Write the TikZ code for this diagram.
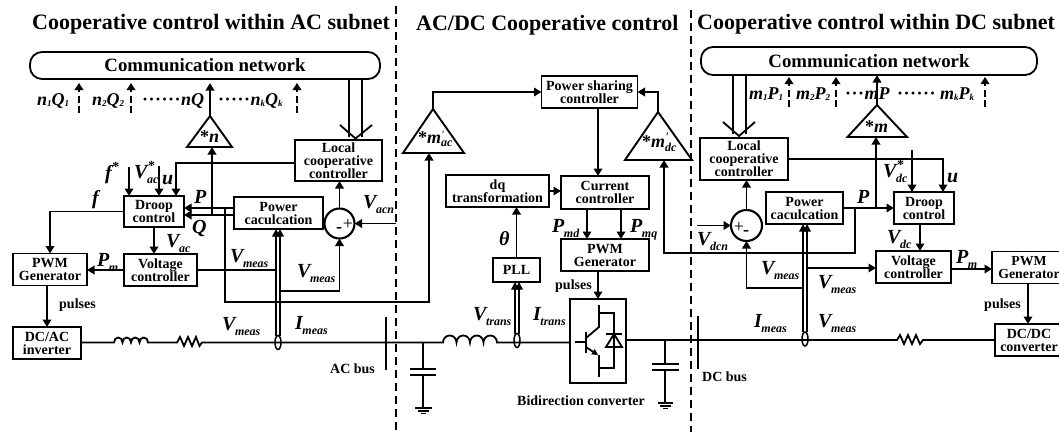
\documentclass[tikz,border=0pt]{standalone}
\usepackage{fontspec}
\setmainfont{Liberation Serif}
\usetikzlibrary{arrows.meta,calc,shapes.geometric}
\newcommand{\bigsub}[2]{{\fontsize{20}{20}\selectfont\bfseries\itshape #1}\kern-0.5pt\raisebox{-5pt}{\fontsize{12}{12}\selectfont\bfseries\itshape #2}}
\newcommand{\bigsubsup}[3]{{\fontsize{20}{20}\selectfont\bfseries\itshape #1}\rlap{\kern0.5pt\raisebox{8pt}{\fontsize{14}{14}\selectfont #3}}\kern-0.5pt\raisebox{-5pt}{\fontsize{12}{12}\selectfont\bfseries\itshape #2}}
\newcommand{\pn}[4]{{\itshape #1\raisebox{-1pt}{\fontsize{9}{9}\selectfont #2}#3\raisebox{-1pt}{\fontsize{9}{9}\selectfont #4}}}
\newcommand{\dotrun}[1]{\foreach \k in {1,...,#1}{·\kern0.5pt}}
\tikzset{
  x=1pt,y=-1pt,
  blk/.style={draw,line width=1.9pt,align=center,inner sep=0pt,outer sep=0pt,font=\fontsize{14}{13}\selectfont\bfseries},
  comm/.style={draw,line width=1.8pt,rounded corners=12pt,inner sep=0pt,outer sep=0pt,font=\fontsize{18.8}{20}\selectfont\bfseries},
  head/.style={anchor=base west,inner sep=0pt,font=\fontsize{22}{24}\selectfont\bfseries},
  lab/.style={anchor=base west,inner sep=0pt,font=\bfseries},
  small/.style={anchor=base west,inner sep=0pt,font=\fontsize{14}{14}\selectfont\bfseries},
  series/.style={anchor=base west,inner sep=0pt,font=\fontsize{18}{18}\selectfont\bfseries},
  tri/.style={anchor=base west,inner sep=0pt,font=\fontsize{18}{18}\selectfont\bfseries\itshape},
  wire/.style={line width=1.8pt},
  arr/.style={line width=1.8pt,-{Triangle[length=7.5pt,width=8.5pt]}},
  darr/.style={line width=1.8pt,dash pattern=on 7pt off 3.5pt,-{Triangle[length=7pt,width=8.5pt]}},
  divider/.style={line width=1.8pt,dash pattern=on 8pt off 5pt},
  ct/.style={draw,ellipse,line width=1.5pt,minimum width=6pt,minimum height=14pt,inner sep=0pt,outer sep=0pt},
  twin/.style={line width=1.5pt,-{Triangle[length=7.5pt,width=7.5pt]}},
  summer/.style={draw,circle,line width=2.1pt,inner sep=0pt,outer sep=0pt},
}
\begin{document}
\begin{tikzpicture}
\useasboundingbox (0,0) rectangle (1059,432);
% dividers
\draw[divider] (396,6) -- (396,432);
\draw[divider] (691,10) -- (691,432);
% headings
\node[head] (h1) at (32,29) {Cooperative control within AC subnet};
\node[head] (h2) at (416,30) {AC/DC Cooperative control};
\node[head] (h3) at (697,29) {Cooperative control within DC subnet};
% communication networks
\node[comm,minimum width=350,minimum height=27] (commac) at (205,65.5) {Communication network};
\node[comm,minimum width=336,minimum height=28] (commdc) at (869,61) {Communication network};
% boxes: AC side
\node[blk,minimum width=87,minimum height=41] (lcac) at (338.5,160.5) {Local\\cooperative\\controller};
\node[blk,minimum width=60,minimum height=31] (droopac) at (154,211.5) {Droop\\control};
\node[blk,minimum width=89,minimum height=32] (powac) at (278.5,213) {Power\\caculcation};
\node[blk,minimum width=74,minimum height=32] (pwmac) at (50,269.5) {PWM\\Generator};
\node[blk,minimum width=73,minimum height=32] (voltac) at (160.5,270) {Voltage\\controller};
\node[blk,minimum width=68,minimum height=32] (inv) at (47,343) {DC/AC\\inverter};
% boxes: middle
\node[blk,minimum width=96,minimum height=32] (psc) at (589.5,92) {Power sharing\\controller};
\node[blk,minimum width=88,minimum height=33] (curr) at (605,192.5) {Current\\controller};
\node[blk,minimum width=103,minimum height=32] (dq) at (497.5,191) {dq\\transformation};
\node[blk,minimum width=47,minimum height=24] (pll) at (516.5,270) {PLL};
\node[blk,minimum width=88,minimum height=32] (pwmm) at (605,255) {PWM\\Generator};
\node[blk,minimum width=56,minimum height=84] (conv) at (598,341) {};
% boxes: DC side
\node[blk,minimum width=88,minimum height=42] (lcdc) at (744,159) {Local\\cooperative\\controller};
\node[blk,minimum width=60,minimum height=32] (droopdc) at (924,208) {Droop\\control};
\node[blk,minimum width=77,minimum height=32] (powdc) at (804.5,208) {Power\\caculcation};
\node[blk,minimum width=75,minimum height=32] (voltdc) at (913.5,267) {Voltage\\controller};
\node[blk,minimum width=74,minimum height=32,font=\fontsize{13.8}{13}\selectfont\bfseries] (pwmdc) at (1029,267.5) {PWM\\Generator};
\node[blk,minimum width=68,minimum height=32] (dcdc) at (1029,340) {DC/DC\\converter};
% summers and current transformers
\node[summer,minimum size=30pt] (sumac) at (339.5,223.5) {};
\node[summer,minimum size=31pt] (sumdc) at (746.5,225.5) {};
\node[ct] (ctac) at (278,342.5) {};
\node[ct] (cttr) at (517,340.5) {};
\node[ct] (ctdc) at (805,339) {};
\node[inner sep=0pt,font=\fontsize{18}{18}\selectfont] (sacp) at (348,224) {+};
\node[inner sep=0pt,font=\fontsize{18}{18}\selectfont\bfseries] (sacm) at (339,230) {-};
\node[inner sep=0pt,font=\fontsize{18}{18}\selectfont] (sdcp) at (739,227) {+};
\node[inner sep=0pt,font=\fontsize{18}{18}\selectfont\bfseries] (sdcm) at (746,233) {-};
% gain triangles
\coordinate (tn) at (210,116);
\coordinate (tnl) at (187,147);
\coordinate (tnr) at (232,147);
\coordinate (tm) at (877,105);
\coordinate (tml) at (847.5,137);
\coordinate (tmr) at (907,137);
\coordinate (tac) at (433,109);
\coordinate (tacl) at (403,153);
\coordinate (tacr) at (464,153);
\coordinate (tdc) at (658,112);
\coordinate (tdcl) at (625,160);
\coordinate (tdcr) at (692,160);
\foreach \a/\b/\c in {tn/tnl/tnr,tm/tml/tmr,tac/tacl/tacr,tdc/tdcl/tdcr}
  \draw[line width=1.9pt,line join=miter] (\a) -- (\b) -- (\c) -- cycle;
\node[tri] (ltn) at (200,142) {{\upshape *}n};
\node[tri] (ltm) at (865,132) {{\upshape *}m};
\node[tri] (ltac) at (418,143) {{\upshape *}m\raisebox{-3pt}{\fontsize{12}{12}\selectfont ac}};
\node[tri,font=\fontsize{11}{11}\selectfont] (ltacp) at (442,138) {′};
\node[tri] (ltdc) at (642,147) {{\upshape *}m\raisebox{-4pt}{\fontsize{12}{12}\selectfont dc}};
\node[tri,font=\fontsize{13}{13}\selectfont] (ltdcp) at (666,141) {′};
% AC side connectors
\foreach \n/\xx in {a/79,b/131,c/297}{
  \coordinate (d\n) at (\xx,113);
  \draw[darr,shorten >=4pt] (d\n) -- (d\n |- commac.south);
}
\draw[arr,shorten >=4pt] (tn) -- (tn |- commac.south);
\coordinate (acdl) at (349,137);
\coordinate (acdr) at (362,137);
\draw[wire] (acdl |- commac.south) -- (acdl);
\draw[wire] (acdr |- commac.south) -- (acdr);
\coordinate (acva) at (340,125);
\coordinate (acvb) at (355.5,138.5);
\coordinate (acvc) at (372,125);
\draw[wire] (acva) -- (acvb) -- (acvc);
\coordinate (uac) at (176,196);
\draw[arr] ([yshift=-2.5pt]lcac.west) -- ([yshift=-2.5pt]lcac.west -| uac) -- (uac);
\coordinate (fs) at (129,167);
\coordinate (vs) at (159,166);
\draw[arr] (fs) -- (fs |- droopac.north);
\draw[arr] (vs) -- (vs |- droopac.north);
\draw[arr] (droopac.west) -- (droopac.west -| pwmac.north) -- (pwmac.north);
\draw[arr] (droopac.south) -- (droopac.south |- voltac.north);
\draw[arr] (voltac.west) -- (voltac.west -| pwmac.east);
\draw[arr] (inv.north |- pwmac.south) -- (inv.north);
\draw[arr] ([yshift=5pt]powac.west) -- ([yshift=5pt]powac.west -| droopac.east);
\draw[arr] ([yshift=-2pt]powac.west) -- ([yshift=-2pt]powac.west -| droopac.east);
\coordinate (nup) at (212,215);
\draw[arr] (nup) -- (nup |- tnl);
\coordinate (pdn) at (225,208);
\coordinate (pdnb) at (225,302);
\coordinate (tacin) at (429,302);
\draw[arr] (pdn) -- (pdnb) -- (tacin) -- (tacin |- tacl);
\draw[twin] ([xshift=-2pt]ctac.north) -- ([xshift=-2pt]ctac.north |- powac.south);
\draw[twin] ([xshift=2pt]ctac.north) -- ([xshift=2pt]ctac.north |- powac.south);
\draw[wire] (voltac.east) -- ([xshift=-2pt]voltac.east -| ctac.north);
\coordinate (smac) at (280,291);
\draw[arr] (smac) -- (smac -| sumac.south) -- (sumac.south);
\coordinate (vacn) at (396,223.5);
\draw[arr] (vacn) -- (sumac.east);
\draw[arr] (sumac.north) -- (sumac.north |- lcac.south);
% middle connectors
\draw[arr] (tac) -- (tac |- psc.west) -- (psc.west);
\draw[arr] (tdc) -- (tdc |- psc.east) -- (psc.east);
\draw[arr] (psc.south -| conv.north) -- (conv.north |- curr.north);
\draw[arr] (dq.east) -- (dq.east -| curr.west);
\draw[arr] (pll.north) -- (pll.north |- dq.south);
\coordinate (pmd) at (587,209);
\coordinate (pmq) at (621,209);
\draw[arr] (pmd) -- (pmd |- pwmm.north);
\draw[arr] (pmq) -- (pmq |- pwmm.north);
\draw[arr] (conv.north |- pwmm.south) -- (conv.north);
\draw[twin] ([xshift=-2pt]cttr.north) -- ([xshift=-2pt]cttr.north |- pll.south);
\draw[twin] ([xshift=2pt]cttr.north) -- ([xshift=2pt]cttr.north |- pll.south);
% DC side connectors
\foreach \n/\xx in {e/789,f/836,g/985}{
  \coordinate (d\n) at (\xx,107);
  \draw[darr,shorten >=2pt] (d\n) -- (d\n |- commdc.south);
}
\draw[arr] (tm) -- (tm |- commdc.south);
\coordinate (dcdl) at (733,134);
\coordinate (dcdr) at (746,134);
\draw[wire] (dcdl |- commdc.south) -- (dcdl);
\draw[wire] (dcdr |- commdc.south) -- (dcdr);
\coordinate (dcva) at (723,122);
\coordinate (dcvb) at (739,136);
\coordinate (dcvc) at (755,122);
\draw[wire] (dcva) -- (dcvb) -- (dcvc);
\coordinate (udc) at (943,192);
\draw[arr] (lcdc.east) -- (lcdc.east -| udc) -- (udc);
\coordinate (vds) at (912,150);
\draw[arr] (vds) -- (vds |- droopdc.north);
\draw[arr] (powdc.east) -- (droopdc.west);
\coordinate (mup) at (876,208);
\draw[arr] (mup) -- (mup |- tml);
\coordinate (pb) at (855,208);
\coordinate (pbb) at (855,253);
\coordinate (tdcin) at (664,253);
\draw[arr] (pb) -- (pbb) -- (tdcin) -- (tdcin |- tdcl);
\coordinate (vdcdn) at (920,224);
\draw[arr] (vdcdn) -- (vdcdn |- voltdc.north);
\coordinate (pmdc) at (951,269);
\draw[arr] (pmdc) -- (pmdc -| pwmdc.west);
\coordinate (pdc) at (1028,283.5);
\draw[arr] (pdc) -- (pdc |- dcdc.north);
\draw[twin] ([xshift=-2pt]ctdc.north) -- ([xshift=-2pt]ctdc.north |- powdc.south);
\draw[twin] ([xshift=2pt]ctdc.north) -- ([xshift=2pt]ctdc.north |- powdc.south);
\coordinate (vvdc) at (807,268);
\draw[arr] (vvdc) -- (vvdc -| voltdc.west);
\coordinate (smdc) at (803,288);
\draw[arr] (smdc) -- (smdc -| sumdc.south) -- (sumdc.south);
\coordinate (vdcn) at (697,225.5);
\draw[arr] (vdcn) -- (sumdc.west);
\draw[arr] (sumdc.north) -- (sumdc.north |- lcdc.south);
% AC power path with inductor and resistor
\draw[wire] ([yshift=0.5pt]inv.east) -- (114,342.5)
  arc[start angle=180,end angle=360,x radius=4.25,y radius=5]
  arc[start angle=180,end angle=360,x radius=4.25,y radius=5]
  arc[start angle=180,end angle=360,x radius=4.25,y radius=5]
  arc[start angle=180,end angle=360,x radius=4.25,y radius=5]
  -- (177,342.5) -- (180,337) -- (184,346) -- (188,337) -- (192,346) -- (196,337) -- (199.5,346) -- (202,342.5)
  -- (443,342.5)
  arc[start angle=180,end angle=360,x radius=6.75,y radius=7]
  arc[start angle=180,end angle=360,x radius=6.75,y radius=7]
  arc[start angle=180,end angle=360,x radius=6.75,y radius=7]
  arc[start angle=180,end angle=360,x radius=6.75,y radius=7]
  -- ([yshift=-1.5pt]conv.west);
% DC power path with resistor
\draw[wire] ([yshift=1pt]conv.east) -- (897,340) -- (900,335) -- (904,344) -- (908,335) -- (912,344) -- (916,335) -- (920,344) -- (923,340) -- (dcdc.west);
% buses
\draw[line width=1.9pt] (386,317) -- (386,370);
\draw[line width=1.9pt] (698,316) -- (698,369);
% AC capacitor and ground
\coordinate (capa) at (423,342.5);
\draw[wire] (capa) -- (423,369);
\draw[wire] (410,369) -- (436,369);
\draw[wire] (410,375) -- (436,375);
\draw[wire] (423,375) -- (423,408);
\draw[wire] (415,408) -- (432,408);
\draw[line width=1.3pt] (418,411) -- (429,411);
\draw[line width=1.3pt] (421,413.5) -- (426,413.5);
% DC capacitor and ground
\coordinate (capb) at (665,340);
\draw[wire] (capb) -- (665,364);
\draw[wire] (652,364) -- (679,364);
\draw[wire] (652,370) -- (679,370);
\draw[wire] (665,370) -- (665,403);
\draw[wire] (658,403) -- (673,403);
\draw[line width=1.3pt] (660,406) -- (671,406);
\draw[line width=1.3pt] (663,408.5) -- (668,408.5);
% switch inside the converter
\draw[wire] (575,342) -- (586,342);
\draw[line width=1.9pt] (586,332) -- (586,353);
\draw[wire] (586,338) -- (599,327) -- (599,305);
\draw[wire,-{Triangle[length=6pt,width=6pt]}] (586,347) -- (598,355);
\draw[wire] (599,355) -- (599,377);
\draw[wire] (599,313) -- (614,313) -- (614,368) -- (599,368);
\draw[wire] (606,334) -- (622,334);
\draw[wire] (614,334) -- (606,347) -- (622,347) -- cycle;
% series labels
\node[series] (l1) at (37,105) {\pn{n}{1}{Q}{1}};
\node[series] (l2) at (92,105) {\pn{n}{2}{Q}{2}};
\node[series] (l3) at (142,105) {\dotrun{6}{\itshape nQ}};
\node[series] (l4) at (218,105) {\dotrun{5}\pn{n}{k}{Q}{k}};
\node[series] (r1) at (749,99) {\pn{m}{1}{P}{1}};
\node[series] (r2) at (796,99) {\pn{m}{2}{P}{2}};
\node[series] (r3) at (845,99) {\dotrun{3}{\itshape mP}};
\node[series] (r4) at (897,99) {\dotrun{6}\kern4pt\pn{m}{k}{P}{k}};
% AC labels
\node[lab] (lf) at (92,204) {\bigsub{f}{}};
\node[lab] (lfs) at (105,179) {\bigsubsup{f}{}{*}};
\node[lab] (lvs) at (134,178) {\bigsubsup{V}{ac}{*}};
\node[lab] (lu) at (162,184) {\bigsub{u}{}};
\node[lab] (lp) at (194,203) {\bigsub{P}{}};
\node[lab] (lq) at (192,233) {\bigsub{Q}{}};
\node[lab] (lvac) at (166,247) {\bigsub{V}{ac}};
\node[lab] (lpm) at (97,266) {\bigsub{P}{m}};
\node[lab] (lvm1) at (230,262) {\bigsub{V}{meas}};
\node[lab] (lvm2) at (297,277) {\bigsub{V}{meas}};
\node[lab] (lvm3) at (222,330) {\bigsub{V}{meas}};
\node[lab] (lim) at (295,329) {\bigsub{I}{meas}};
\node[lab] (lvn) at (363,208) {\bigsub{V}{acn}};
\node[small] (lpu1) at (59,308) {pulses};
\node[small] (lacb) at (330,373) {AC bus};
% middle labels
\node[lab] (lth) at (499,245) {\bigsub{θ}{}};
\node[lab] (lmd) at (552,232) {\bigsub{P}{md}};
\node[lab] (lmq) at (630,232) {\bigsub{P}{mq}};
\node[small] (lpu2) at (555,289) {pulses};
\node[lab] (lvt) at (473,320) {\bigsub{V}{trans}};
\node[lab] (lit) at (533,320) {\bigsub{I}{trans}};
\node[small] (lbc) at (517,405) {Bidirection converter};
% DC labels
\node[lab] (lvds) at (883,177) {\bigsubsup{V}{dc}{*}};
\node[lab] (lud) at (947,182) {\bigsub{u}{}};
\node[lab] (lpd) at (857,203) {\bigsub{P}{}};
\node[lab] (lvdc) at (887,243) {\bigsub{V}{dc}};
\node[lab] (lpmd) at (956,263) {\bigsub{P}{m}};
\node[small] (lpu3) at (984,308) {pulses};
\node[small] (ldcb) at (702,381) {DC bus};
\node[lab] (lvdn) at (697,245) {\bigsub{V}{dcn}};
\node[lab] (lvm4) at (761,274) {\bigsub{V}{meas}};
\node[lab] (lvm5) at (818,288) {\bigsub{V}{meas}};
\node[lab] (lvm6) at (818,327) {\bigsub{V}{meas}};
\node[lab] (limd) at (754,327) {\bigsub{I}{meas}};
\end{tikzpicture}
\end{document}
